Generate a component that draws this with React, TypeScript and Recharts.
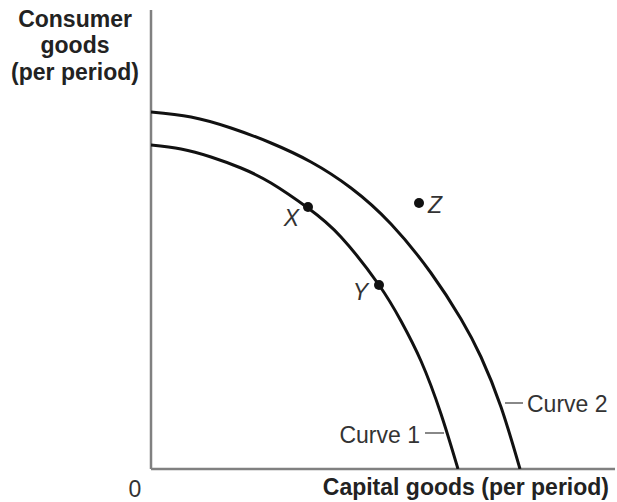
import React from 'react';
import { ComposedChart, Line, Scatter, XAxis, YAxis, ReferenceLine, LabelList, Customized } from 'recharts';

// Curve 1 (inner production possibilities frontier)
const curve1X = [0, 30, 60, 90, 120, 157, 190, 228, 250, 270, 290, 307];
const curve1Y = [324, 320, 312, 301, 286, 261, 232, 184, 148, 108, 55, 0];
// Curve 2 (outer frontier)
const curve2X = [0, 40, 80, 120, 160, 200, 240, 280, 310, 330, 350, 369];
const curve2Y = [357, 352, 341, 326, 307, 281, 245, 196, 150, 112, 62, 0];
// Labelled points
const pointNames = ['X', 'Y', 'Z'];
const pointX = [157, 228, 268];
const pointY = [262, 184, 266];
// Curve name callouts (leader line segments in data units)
const curveNames = ['Curve 1', 'Curve 2'];
const calloutX1 = [274, 354];
const calloutX2 = [293, 372];
const calloutY = [36, 66];

const curve1 = curve1X.map((x, i) => ({ x, y: curve1Y[i] }));
const curve2 = curve2X.map((x, i) => ({ x, y: curve2Y[i] }));
const points = pointNames.map((name, i) => ({ name, x: pointX[i], y: pointY[i] }));

const FONT = '"Liberation Sans", Arial, Helvetica, sans-serif';
const labelOffsets: Record<string, { dx: number; dy: number; anchor: 'start' | 'end' }> = {
  X: { dx: -9, dy: 19, anchor: 'end' },
  Y: { dx: -11, dy: 15, anchor: 'end' },
  Z: { dx: 9, dy: 10, anchor: 'start' },
};

const PointLabel = (props: any) => {
  const { x, y, width, height, value } = props;
  const cx = x + (width || 0) / 2;
  const cy = y + (height || 0) / 2;
  const o = labelOffsets[value];
  return (
    <text x={cx + o.dx} y={cy + o.dy} textAnchor={o.anchor} fontFamily={FONT} fontSize={23} fontStyle="italic" fill="#333">
      {value}
    </text>
  );
};

const Titles = () => (
  <g fontFamily={FONT} fill="#222">
    <text x={75} y={27} textAnchor="middle" fontSize={23} fontWeight="bold">Consumer</text>
    <text x={75} y={53} textAnchor="middle" fontSize={23} fontWeight="bold">goods</text>
    <text x={75} y={80} textAnchor="middle" fontSize={23} fontWeight="bold">(per period)</text>
    <text x={609} y={495} textAnchor="end" fontSize={23} fontWeight="bold">Capital goods (per period)</text>
    <text x={135} y={497} textAnchor="middle" fontSize={23} fill="#333">0</text>
  </g>
);

export default function App() {
  return (
    <div style={{ position: 'absolute', left: 0, top: 0, width: 617, height: 502, background: '#fff' }}>
      <ComposedChart width={617} height={502} margin={{ top: 10, right: 2, bottom: 33, left: 151 }}>
        <XAxis type="number" dataKey="x" domain={[0, 464]} allowDataOverflow hide />
        <YAxis type="number" dataKey="y" domain={[0, 459]} allowDataOverflow hide />
        <ReferenceLine x={0} stroke="#808080" strokeWidth={2.5} ifOverflow="visible" />
        <ReferenceLine y={0} stroke="#808080" strokeWidth={2.5} ifOverflow="visible" />
        <Line data={curve1} dataKey="y" type="natural" stroke="#111" strokeWidth={3} dot={false} isAnimationActive={false} />
        <Line data={curve2} dataKey="y" type="natural" stroke="#111" strokeWidth={3} dot={false} isAnimationActive={false} />
        <Scatter
          data={points}
          dataKey="y"
          isAnimationActive={false}
          shape={(p: any) => <circle cx={p.cx} cy={p.cy} r={5} fill="#111" />}
        >
          <LabelList dataKey="name" content={PointLabel} />
        </Scatter>
        {curveNames.map((name, i) => (
          <ReferenceLine
            key={name}
            segment={[{ x: calloutX1[i], y: calloutY[i] }, { x: calloutX2[i], y: calloutY[i] }]}
            stroke="#888"
            strokeWidth={2}
            ifOverflow="visible"
            label={(lp: any) => {
              const vb = lp.viewBox;
              const left = i === 0;
              return (
                <text
                  x={left ? vb.x - 5 : vb.x + vb.width + 4}
                  y={vb.y + (left ? 10 : 9)}
                  textAnchor={left ? 'end' : 'start'}
                  fontFamily={FONT}
                  fontSize={23}
                  fill="#333"
                >
                  {name}
                </text>
              );
            }}
          />
        ))}
        <Customized component={Titles} />
      </ComposedChart>
    </div>
  );
}
